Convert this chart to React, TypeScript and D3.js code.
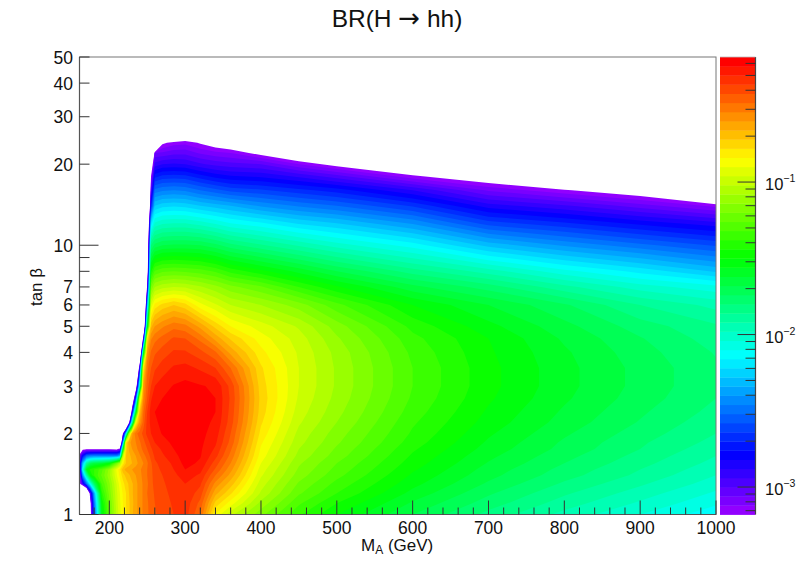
import React, { useMemo } from "react";
import * as d3 from "d3";

const W = 796, H = 573;
const PLOT = { left: 79.5, right: 716, top: 57, bottom: 514.5 };
const BAR = { left: 720, right: 755.5 };
const FONT = "'Liberation Sans', Arial, sans-serif";

// Axes (GeV, tan beta)
const massDomain = [160.7, 1000];
const tanDomain = [1, 50];
const massMajorTicks = [200, 300, 400, 500, 600, 700, 800, 900, 1000];
const tanLabels = [1, 2, 3, 4, 5, 6, 7, 10, 20, 30, 40, 50];
const tanUnlabelled = [8, 9];
const tanDecades = [1, 10];
const colourDomain = [-3.18, -0.18];
const colourDecades = [-1, -2, -3];
const colourMinor = [0.6, 0.5, 0.4, 0.3, 0.2, 0.09, 0.08, 0.07, 0.06, 0.05, 0.04, 0.03, 0.02, 0.009, 0.008, 0.007, 0.006, 0.005, 0.004, 0.003, 0.002, 0.0009, 0.0008, 0.0007];

// Grid columns and rows of the map
const massGrid = [160, 165, 170, 175, 180, 190, 200, 210, 214, 218, 222, 226, 230, 235, 240, 245, 250, 255, 260, 270, 285, 300, 320, 340, 360, 400, 450, 500, 600, 700, 800, 900, 1000];
const tanGrid = [1, 1.1, 1.2, 1.3, 1.4, 1.47, 1.55, 1.65, 1.75, 1.85, 2, 2.2, 2.4, 2.7, 3, 3.5, 4, 4.5, 5, 6, 7, 8, 10, 12, 14, 16, 18, 20, 22, 24, 25, 27];

// log10 BR per row; o means no value in range (white)
const o = -4.5;
const logBr: number[][] = [
  [o, o, o, -3.3, -2.6, -1.55, -1.25, -1.0, -0.92, -0.85, -0.79, -0.73, -0.67, -0.62, -0.57, -0.53, -0.49, -0.46, -0.43, -0.39, -0.36, -0.33, -0.48, -0.85, -1.0, -1.18, -1.37, -1.5, -1.68, -1.82, -1.94, -2.04, -2.14],
  [o, o, o, -3.25, -2.5, -1.5, -1.22, -0.98, -0.91, -0.84, -0.78, -0.73, -0.68, -0.62, -0.57, -0.53, -0.49, -0.45, -0.42, -0.39, -0.35, -0.32, -0.44, -0.74, -0.87, -1.1, -1.31, -1.44, -1.63, -1.77, -1.89, -1.99, -2.09],
  [o, o, -4, -3, -2.35, -1.4, -1.18, -0.97, -0.9, -0.83, -0.78, -0.72, -0.67, -0.62, -0.57, -0.53, -0.48, -0.45, -0.41, -0.38, -0.34, -0.31, -0.39, -0.64, -0.77, -1.03, -1.25, -1.38, -1.58, -1.73, -1.85, -1.95, -2.05],
  [-3.3, -2.9, -2.5, -2.1, -1.75, -1.32, -1.15, -0.95, -0.87, -0.8, -0.75, -0.71, -0.67, -0.62, -0.57, -0.53, -0.49, -0.44, -0.4, -0.37, -0.33, -0.3, -0.35, -0.56, -0.69, -0.99, -1.21, -1.34, -1.54, -1.69, -1.81, -1.91, -2.01],
  [-3.4, -2.4, -1.9, -1.5, -1.38, -1.25, -1.1, -0.9, -0.82, -0.75, -0.7, -0.67, -0.63, -0.6, -0.56, -0.52, -0.48, -0.44, -0.39, -0.36, -0.315, -0.27, -0.31, -0.48, -0.62, -0.95, -1.17, -1.3, -1.51, -1.66, -1.775, -1.875, -1.98],
  [-3.3, -2.1, -1.55, -1.42, -1.38, -1.28, -1.12, -0.88, -0.8, -0.68, -0.64, -0.62, -0.6, -0.58, -0.55, -0.52, -0.48, -0.44, -0.38, -0.35, -0.3, -0.24, -0.28, -0.43, -0.58, -0.93, -1.15, -1.28, -1.49, -1.645, -1.76, -1.86, -1.96],
  [-3.1, -2.3, -1.9, -1.72, -1.66, -1.62, -1.52, -1.2, -1.05, -0.82, -0.72, -0.69, -0.66, -0.62, -0.58, -0.54, -0.49, -0.43, -0.37, -0.34, -0.285, -0.22, -0.25, -0.39, -0.54, -0.9, -1.13, -1.26, -1.47, -1.625, -1.74, -1.84, -1.94],
  [-3.15, -2.75, -2.5, -2.45, -2.43, -2.43, -2.43, -2.43, -2.3, -1, -0.72, -0.68, -0.64, -0.6, -0.55, -0.5, -0.46, -0.4, -0.35, -0.31, -0.26, -0.21, -0.235, -0.34, -0.5, -0.87, -1.1, -1.23, -1.45, -1.605, -1.72, -1.82, -1.92],
  [-3.6, -3.22, -3.2, -3.2, -3.2, -3.2, -3.2, -3.22, -3.1, -1.6, -0.75, -0.65, -0.6, -0.56, -0.51, -0.46, -0.42, -0.37, -0.33, -0.29, -0.24, -0.205, -0.23, -0.31, -0.47, -0.85, -1.08, -1.21, -1.43, -1.585, -1.7, -1.8, -1.9],
  [o, o, o, o, o, o, o, o, -4, -2.4, -0.8, -0.62, -0.58, -0.54, -0.49, -0.44, -0.39, -0.34, -0.3, -0.265, -0.225, -0.2, -0.225, -0.29, -0.44, -0.83, -1.06, -1.19, -1.41, -1.57, -1.69, -1.79, -1.88],
  [o, o, o, o, o, o, o, o, o, -3.18, -2.2, -1.1, -0.62, -0.5, -0.45, -0.4, -0.34, -0.3, -0.27, -0.235, -0.215, -0.2, -0.22, -0.27, -0.42, -0.8, -1.04, -1.17, -1.39, -1.55, -1.67, -1.77, -1.86],
  [o, o, o, o, o, o, o, o, o, o, o, -3.3, -2, -0.85, -0.6, -0.45, -0.34, -0.28, -0.25, -0.225, -0.21, -0.2, -0.22, -0.25, -0.39, -0.77, -1.01, -1.14, -1.37, -1.525, -1.645, -1.745, -1.84],
  [o, o, o, o, o, o, o, o, o, o, o, o, -2.9, -1.6, -0.7, -0.48, -0.36, -0.27, -0.24, -0.225, -0.21, -0.2, -0.22, -0.24, -0.38, -0.75, -0.99, -1.12, -1.35, -1.51, -1.63, -1.73, -1.82],
  [o, o, o, o, o, o, o, o, o, o, o, o, -3.8, -2.6, -1, -0.55, -0.42, -0.31, -0.26, -0.24, -0.22, -0.205, -0.225, -0.24, -0.37, -0.74, -0.97, -1.1, -1.33, -1.49, -1.61, -1.71, -1.8],
  [o, o, o, o, o, o, o, o, o, o, o, o, o, -3.5, -2, -0.6, -0.45, -0.36, -0.3, -0.27, -0.235, -0.22, -0.235, -0.25, -0.38, -0.75, -0.96, -1.09, -1.32, -1.48, -1.6, -1.7, -1.79],
  [o, o, o, o, o, o, o, o, o, o, o, o, o, o, -2.9, -0.8, -0.5, -0.42, -0.37, -0.33, -0.29, -0.28, -0.31, -0.36, -0.48, -0.77, -0.96, -1.09, -1.32, -1.48, -1.6, -1.7, -1.79],
  [o, o, o, o, o, o, o, o, o, o, o, o, o, o, -4.2, -1.6, -0.6, -0.47, -0.43, -0.39, -0.35, -0.35, -0.4, -0.47, -0.62, -0.82, -0.97, -1.1, -1.335, -1.49, -1.61, -1.715, -1.805],
  [o, o, o, o, o, o, o, o, o, o, o, o, o, o, o, -3, -0.8, -0.55, -0.5, -0.46, -0.41, -0.42, -0.5, -0.62, -0.73, -0.87, -0.99, -1.13, -1.36, -1.5, -1.63, -1.735, -1.83],
  [o, o, o, o, o, o, o, o, o, o, o, o, o, o, o, -4, -1.6, -0.68, -0.6, -0.55, -0.5, -0.52, -0.62, -0.74, -0.84, -0.93, -1.03, -1.17, -1.4, -1.54, -1.66, -1.77, -1.85],
  [o, o, o, o, o, o, o, o, o, o, o, o, o, o, o, o, -2.4, -0.95, -0.82, -0.76, -0.72, -0.76, -0.88, -0.95, -1.02, -1.08, -1.17, -1.3, -1.5, -1.62, -1.73, -1.86, -1.94],
  [o, o, o, o, o, o, o, o, o, o, o, o, o, o, o, o, -3.1, -1.2, -1.08, -1.04, -1.02, -1.03, -1.07, -1.12, -1.18, -1.25, -1.38, -1.49, -1.66, -1.77, -1.9, -2.01, -2.08],
  [o, o, o, o, o, o, o, o, o, o, o, o, o, o, o, o, -3.5, -1.45, -1.31, -1.27, -1.26, -1.27, -1.29, -1.33, -1.4, -1.48, -1.58, -1.68, -1.83, -1.95, -2.08, -2.18, -2.29],
  [o, o, o, o, o, o, o, o, o, o, o, o, o, o, o, o, -3.7, -1.8, -1.72, -1.68, -1.67, -1.67, -1.68, -1.72, -1.78, -1.85, -1.93, -2.01, -2.13, -2.3, -2.41, -2.5, -2.59],
  [o, o, o, o, o, o, o, o, o, o, o, o, o, o, o, o, -4, -2.2, -2.02, -1.98, -1.97, -1.97, -2, -2.04, -2.09, -2.14, -2.22, -2.27, -2.4, -2.6, -2.68, -2.77, -2.85],
  [o, o, o, o, o, o, o, o, o, o, o, o, o, o, o, o, o, -2.7, -2.28, -2.24, -2.23, -2.24, -2.28, -2.31, -2.34, -2.41, -2.47, -2.52, -2.65, -2.85, -2.93, -3.03, -3.14],
  [o, o, o, o, o, o, o, o, o, o, o, o, o, o, o, o, o, -3, -2.5, -2.47, -2.46, -2.47, -2.52, -2.56, -2.6, -2.63, -2.68, -2.73, -2.88, -3.07, -3.17, -3.27, -3.5],
  [o, o, o, o, o, o, o, o, o, o, o, o, o, o, o, o, o, -3.18, -2.72, -2.68, -2.67, -2.68, -2.73, -2.78, -2.81, -2.83, -2.89, -2.97, -3.16, -3.28, -3.4, -3.6, -4],
  [o, o, o, o, o, o, o, o, o, o, o, o, o, o, o, o, o, -3.4, -2.92, -2.88, -2.87, -2.88, -2.93, -2.96, -2.98, -3, -3.12, -3.22, -3.36, -3.6, -4, o, o],
  [o, o, o, o, o, o, o, o, o, o, o, o, o, o, o, o, o, o, -3.05, -3.05, -3.02, -3.02, -3.07, -3.1, -3.12, -3.22, -3.35, -3.42, -3.6, -4, o, o, o],
  [o, o, o, o, o, o, o, o, o, o, o, o, o, o, o, o, o, o, o, -3.2, -3.15, -3.14, -3.19, -3.25, -3.3, -3.6, -3.8, -4, o, o, o, o, o],
  [o, o, o, o, o, o, o, o, o, o, o, o, o, o, o, o, o, o, o, o, -3.3, -3.25, -3.4, -3.5, -3.6, -3.9, -4.2, o, o, o, o, o, o],
  [o, o, o, o, o, o, o, o, o, o, o, o, o, o, o, o, o, o, o, o, o, o, o, o, o, o, o, o, o, o, o, o, o],
];

const BAND_COUNT = 50;
const MAX_HUE = 280;

const bandColour = (k: number) =>
  k === BAND_COUNT - 1 ? "rgb(255,0,0)" : d3.hsl(MAX_HUE - (k + 1) * (MAX_HUE / BAND_COUNT), 1, 0.5).formatRgb();

export default function App() {
  const x = d3.scaleLinear().domain(massDomain).range([PLOT.left, PLOT.right]);
  const y = d3.scaleLog().domain(tanDomain).range([PLOT.bottom, PLOT.top]);
  const z = d3.scaleLinear().domain(colourDomain).range([PLOT.bottom, PLOT.top]);

  const step = (colourDomain[1] - colourDomain[0]) / BAND_COUNT;
  const levels = d3.range(BAND_COUNT).map((k) => colourDomain[0] + k * step);

  const bands = useMemo(() => {
    const cols = massGrid.length, rows = tanGrid.length;
    const flat = logBr.flat();
    const maker = d3.contours().size([cols, rows]).smooth(true).thresholds(levels);
    // contour coordinates sit half a cell off the grid indices
    const ix = d3.scaleLinear().domain(massGrid.map((_, i) => i + 0.5)).range(massGrid);
    const iy = d3.scaleLinear().domain(tanGrid.map((_, i) => i + 0.5)).range(tanGrid.map(Math.log10));
    const path = d3.geoPath(
      d3.geoTransform({
        point(px: number, py: number) {
          const m = Math.min(1000, Math.max(160, ix(px)));
          const t = Math.max(0, iy(py));
          (this as any).stream.point(x(m), y(Math.pow(10, t)));
        },
      })
    );
    return maker(flat).map((c, k) => ({ k, d: path(c as any) || "" }));
  }, []);

  const minorMass = d3.range(180, 1001, 20).filter((v) => !massMajorTicks.includes(v));
  const frame = "#555";

  return (
    <svg width={W} height={H} viewBox={`0 0 ${W} ${H}`} style={{ position: "absolute", left: 0, top: 0, background: "#fff" }} fontFamily={FONT} fill="#111">
      <defs>
        <clipPath id="plot-clip">
          <rect x={PLOT.left} y={PLOT.top} width={PLOT.right - PLOT.left} height={PLOT.bottom - PLOT.top} />
        </clipPath>
      </defs>

      <g clipPath="url(#plot-clip)">
        {bands.map((b) => (
          <path key={b.k} d={b.d} fill={bandColour(b.k)} />
        ))}
      </g>

      {/* plot frame */}
      <rect x={PLOT.left} y={PLOT.top} width={PLOT.right - PLOT.left} height={PLOT.bottom - PLOT.top} fill="none" stroke="#777" strokeWidth={1} />
      <line x1={PLOT.left} x2={PLOT.left} y1={PLOT.top} y2={PLOT.bottom} stroke={frame} strokeWidth={1.2} />
      <line x1={PLOT.left} x2={PLOT.right} y1={PLOT.bottom} y2={PLOT.bottom} stroke={frame} strokeWidth={1.2} />

      {/* x axis */}
      {massMajorTicks.map((v) => (
        <g key={v}>
          <line x1={x(v)} x2={x(v)} y1={PLOT.bottom} y2={PLOT.bottom - 14} stroke="#333" strokeWidth={1} />
          <text x={x(v)} y={533.5} textAnchor="middle" fontSize={17.5}>{v}</text>
        </g>
      ))}
      {minorMass.map((v) => (
        <line key={v} x1={x(v)} x2={x(v)} y1={PLOT.bottom} y2={PLOT.bottom - 7} stroke="#333" strokeWidth={1} />
      ))}
      <text x={361} y={551} fontSize={17}>M<tspan fontSize={12} dy={3}>A</tspan><tspan dy={-3}> (GeV)</tspan></text>

      {/* y axis */}
      {[...tanLabels, ...tanUnlabelled].map((v) => (
        <line key={v} x1={PLOT.left} x2={PLOT.left + (tanDecades.includes(v) ? 19 : 10)} y1={y(v)} y2={y(v)} stroke="#333" strokeWidth={1} />
      ))}
      {tanLabels.map((v) => (
        <text key={v} x={73} y={y(v) + 6.5} textAnchor="end" fontSize={17.5}>{v}</text>
      ))}
      <text transform={`translate(42,287) rotate(-90)`} textAnchor="middle" fontSize={17}>tan β</text>

      {/* palette */}
      {levels.map((lv, k) => (
        <rect key={k} x={BAR.left} width={BAR.right - BAR.left} y={z(lv + step)} height={z(lv) - z(lv + step) + 0.4} fill={bandColour(k)} />
      ))}
      <line x1={BAR.right} x2={BAR.right} y1={PLOT.top} y2={PLOT.bottom} stroke="#444" strokeWidth={1.2} />
      <line x1={BAR.left} x2={BAR.right} y1={PLOT.top} y2={PLOT.top} stroke="#bbb" strokeWidth={0.8} />
      {colourMinor.map((v) => (
        <line key={v} x1={BAR.right} x2={BAR.right - 10} y1={z(Math.log10(v))} y2={z(Math.log10(v))} stroke="#333" strokeWidth={1} />
      ))}
      {colourDecades.map((p) => (
        <g key={p}>
          <line x1={BAR.right} x2={BAR.right - 18} y1={z(p)} y2={z(p)} stroke="#333" strokeWidth={1} />
          <text x={765} y={z(p) + 8} fontSize={16.5}>10<tspan fontSize={10.5} dy={-8}>{`\u2212${-p}`}</tspan></text>
        </g>
      ))}

      <text x={397} y={27} textAnchor="middle" fontSize={24.5}>BR(H <tspan fontFamily="'DejaVu Sans'" fontSize={26}>→</tspan> hh)</text>
    </svg>
  );
}
